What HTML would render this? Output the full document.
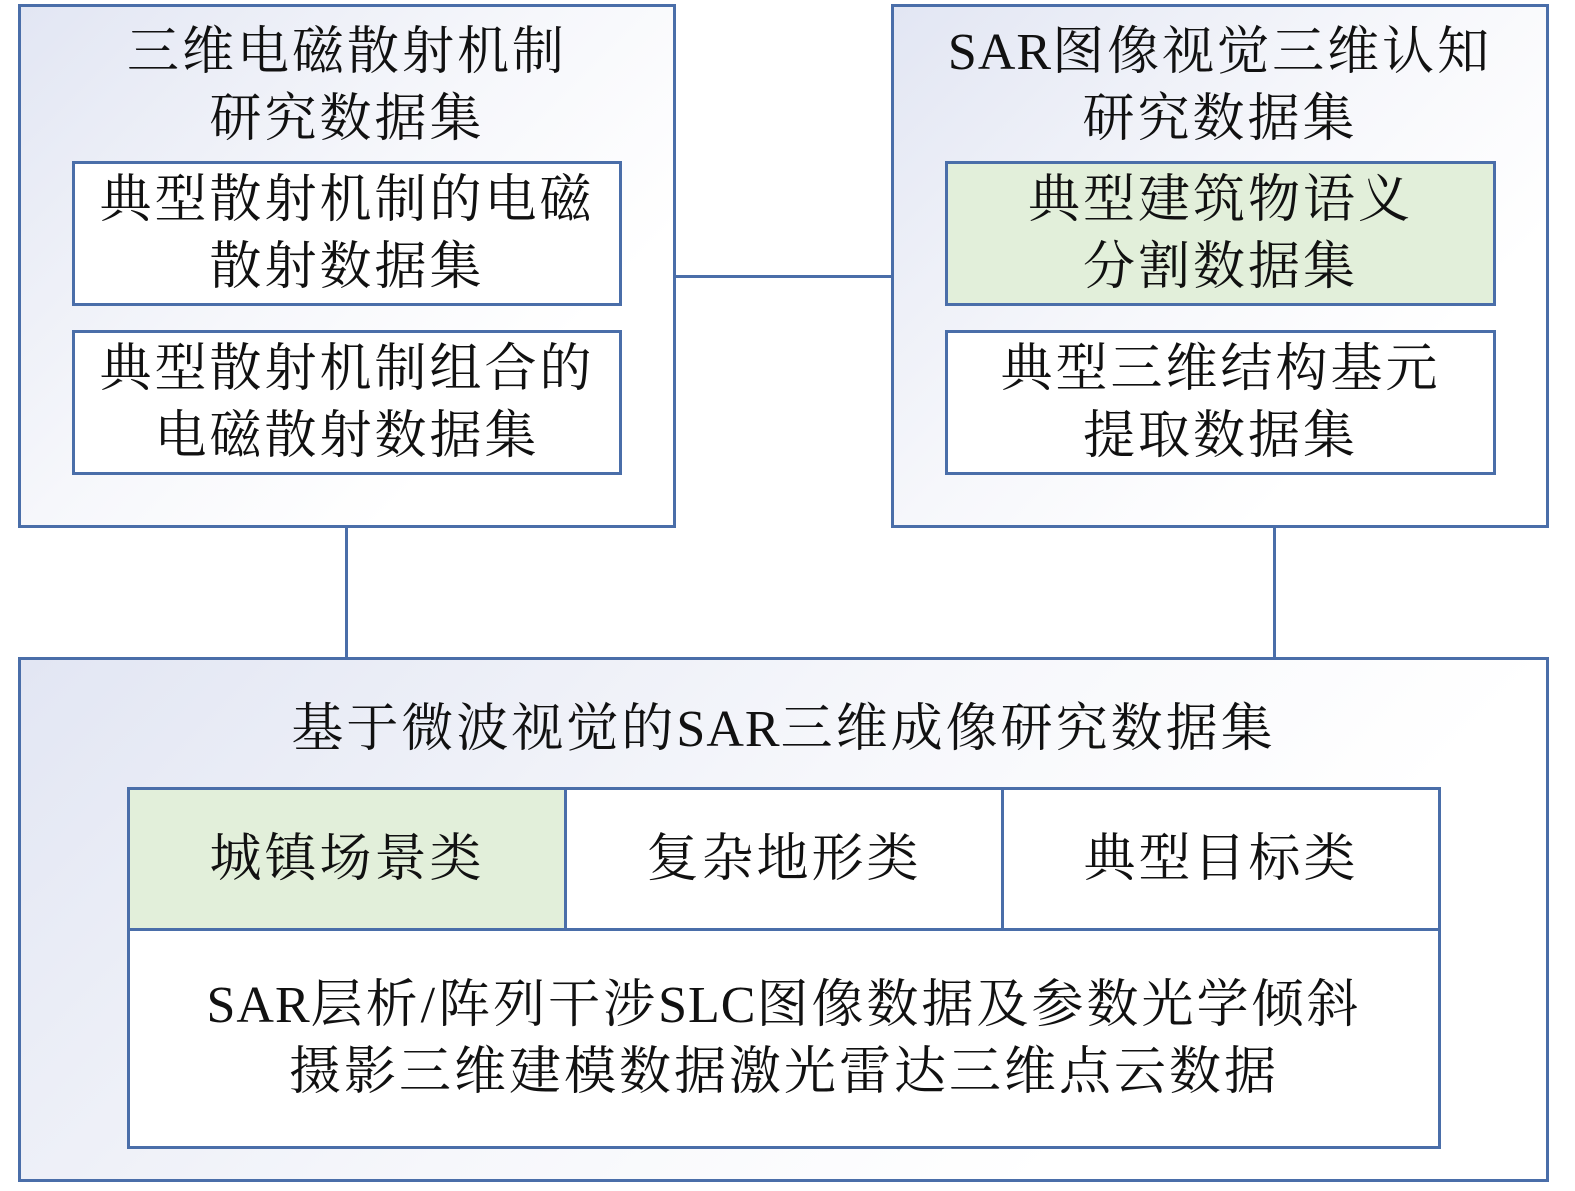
<!DOCTYPE html>
<html><head><meta charset="utf-8"><style>
html,body{margin:0;width:1575px;height:1191px;overflow:hidden}
body{background:#fff;position:relative;font-family:"Liberation Serif","Noto Serif CJK SC",serif;color:#111}
.b{position:absolute;box-sizing:border-box;border:3px solid #4a6ea9}
.g{background:linear-gradient(135deg,#e2e6f3 0%,#f6f7fb 45%,#fff 75%)}
.t{position:absolute;left:0;right:0;text-align:center;font-size:52px;line-height:67px;letter-spacing:3px;white-space:nowrap}
.in{background:#fff;display:flex;align-items:center;justify-content:center;text-align:center;font-size:52px;line-height:67px;letter-spacing:3px;white-space:nowrap}
.gr{background:#e2efda}
.l{position:absolute;background:#4a6ea9}
.s{letter-spacing:1px}
</style></head><body>
<div class="b g" style="left:18px;top:4px;width:658px;height:524px"><div class="t" style="top:12px">三维电磁散射机制<br>研究数据集</div></div>
<div class="b g" style="left:891px;top:4px;width:658px;height:524px"><div class="t" style="top:12px"><span class="s">SAR</span>图像视觉三维认知<br>研究数据集</div></div>
<div class="b in" style="left:72px;top:161px;width:550px;height:145px">典型散射机制的电磁<br>散射数据集</div>
<div class="b in" style="left:72px;top:330px;width:550px;height:145px">典型散射机制组合的<br>电磁散射数据集</div>
<div class="b in gr" style="left:945px;top:161px;width:551px;height:145px">典型建筑物语义<br>分割数据集</div>
<div class="b in" style="left:945px;top:330px;width:551px;height:145px">典型三维结构基元<br>提取数据集</div>
<div class="l" style="left:676px;top:275px;width:215px;height:3px"></div>
<div class="l" style="left:345px;top:528px;width:3px;height:130px"></div>
<div class="l" style="left:1273px;top:528px;width:3px;height:130px"></div>
<div class="b g" style="left:18px;top:657px;width:1531px;height:525px"><div class="t" style="top:36px">基于微波视觉的<span class="s">SAR</span>三维成像研究数据集</div></div>
<div class="b in gr" style="left:127px;top:787px;width:440px;height:144px">城镇场景类</div>
<div class="b in" style="left:564px;top:787px;width:440px;height:144px">复杂地形类</div>
<div class="b in" style="left:1001px;top:787px;width:440px;height:144px">典型目标类</div>
<div class="b in" style="left:127px;top:928px;width:1314px;height:221px"><span><span class="s">SAR</span>层析/阵列干涉<span class="s">SLC</span>图像数据及参数光学倾斜<br>摄影三维建模数据激光雷达三维点云数据</span></div>
</body></html>
